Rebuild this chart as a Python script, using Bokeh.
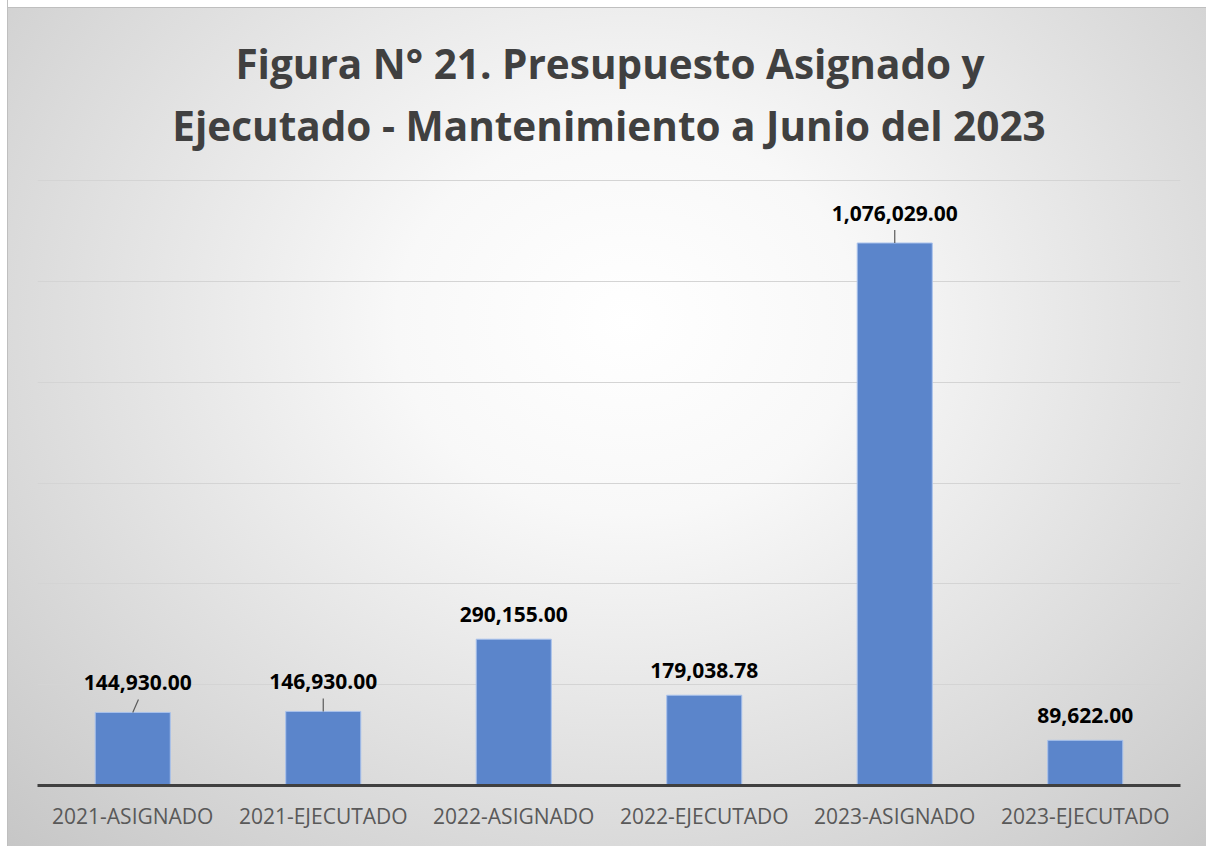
from bokeh.plotting import figure
from bokeh.models import (ColumnDataSource, FactorRange, Range1d, FixedTicker,
                          Title, InlineStyleSheet)
from bokeh.core.properties import value
from bokeh.transform import dodge
from bokeh.embed import file_html
from bokeh.resources import INLINE

# ---- data ----
categories = ["2021-ASIGNADO", "2021-EJECUTADO", "2022-ASIGNADO",
              "2022-EJECUTADO", "2023-ASIGNADO", "2023-EJECUTADO"]
amounts = [144930.00, 146930.00, 290155.00, 179038.78, 1076029.00, 89622.00]
amount_labels = ["144,930.00", "146,930.00", "290,155.00",
                 "179,038.78", "1,076,029.00", "89,622.00"]
has_leader = [True, True, False, False, True, False]
y_ticks = [0, 200000, 400000, 600000, 800000, 1000000, 1200000]
title_line1 = "Figura N° 21. Presupuesto Asignado y"
title_line2 = "Ejecutado - Mantenimiento a Junio del 2023"

Y_MAX = 1202000
W, H = 1206, 846
BL, BR, BT, BB = 37, 26, 179, 61
frame_h = H - BT - BB
units_per_px = Y_MAX / frame_h

css = InlineStyleSheet(css=""":host {
  background:
    linear-gradient(to right, #ffffff 0px, #ffffff 7px, #bfbfbf 7px, #bfbfbf 8px, rgba(255,255,255,0) 8px),
    linear-gradient(to bottom, #ffffff 0px, #ffffff 7px, #bfbfbf 7px, #bfbfbf 8px, rgba(255,255,255,0) 8px),
    radial-gradient(ellipse farthest-corner at 52% 38%, #ffffff 0%, #f8f8f8 26%, #c6c6c6 100%);
}""")

p = figure(x_range=FactorRange(*categories, range_padding=0),
           y_range=Range1d(0, Y_MAX),
           width=W, height=H, output_backend="svg", toolbar_location=None,
           min_border_left=BL, min_border_right=BR, min_border_top=BT, min_border_bottom=BB,
           background_fill_alpha=0, border_fill_alpha=0, outline_line_color=None)
p.stylesheets = [css]
p.title.visible = False

# two-line title; the first line is indented so that it sits centred above the second
pad = "\u00a0" * 6
p.add_layout(Title(text=pad + title_line1 + "\n" + title_line2, align="center", offset=2,
                   text_font="Open Sans", text_font_style="bold",
                   text_font_size="40.5px", text_color="#404040",
                   text_line_height=1.12, standoff=53), "above")

src = ColumnDataSource(dict(
    cat=categories, amt=amounts, lab=amount_labels,
    yoff=[-30 if h else -25 for h in has_leader],
    xoff=[5 if i == 0 else 0 for i in range(len(categories))],
))

p.vbar(x="cat", top="amt", width=0.394, source=src,
       fill_color="#5b85cb", line_color="#a9c2ec", line_width=1)

# leader lines
lead_len = 13 * units_per_px
lead_cats = [c for c, h in zip(categories, has_leader) if h]
lead_y0 = [a for a, h in zip(amounts, has_leader) if h]
lead_y1 = [a + lead_len for a in lead_y0]
first = ColumnDataSource(dict(cat=lead_cats[:1], y0=lead_y0[:1], y1=lead_y1[:1]))
rest = ColumnDataSource(dict(cat=lead_cats[1:], y0=lead_y0[1:], y1=lead_y1[1:]))
p.segment(x0="cat", y0="y0", x1="cat", y1="y1", source=rest, line_color="#595959", line_width=1.2)
p.segment(x0=dodge("cat", 0.0, range=p.x_range), y0="y0",
          x1=dodge("cat", 0.03, range=p.x_range), y1="y1",
          source=first, line_color="#595959", line_width=1.2)

p.text(x="cat", y="amt", text="lab", source=src, x_offset="xoff", y_offset="yoff",
       text_align="center", text_baseline="middle",
       text_font=value("Open Sans"), text_font_style="bold",
       text_font_size="21px", text_color="#000000")

# axes & grid
p.yaxis.visible = False
p.yaxis.ticker = FixedTicker(ticks=y_ticks)
p.ygrid.ticker = FixedTicker(ticks=y_ticks)
p.ygrid.grid_line_color = "#d4d4d4"
p.ygrid.grid_line_width = 1
p.xgrid.grid_line_color = None

xa = p.xaxis[0]
xa.axis_line_color = "#404040"
xa.axis_line_width = 3
xa.major_tick_line_color = None
xa.minor_tick_line_color = None
xa.major_label_text_font = "Open Sans"
xa.major_label_text_font_size = "21px"
xa.major_label_text_color = "#595959"
xa.major_label_standoff = 10

open("out.html", "w").write(file_html(p, INLINE))
